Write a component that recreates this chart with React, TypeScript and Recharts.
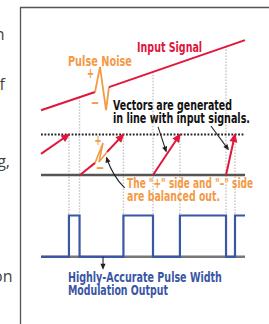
import React from 'react'
import { ComposedChart, Line, XAxis, YAxis, ReferenceLine, ReferenceDot } from 'recharts'

// t = time (0..100 across the drawing), v = level (0 = floor, 1 = threshold, PWM sits below)
const inputBefore = [{ t: 0, v: 1.6 }, { t: 26.5, v: 2.05 }]
const pulseNoise = [{ t: 26.5, v: 2.05 }, { t: 28.9, v: 2.67 }, { t: 31.9, v: 1.6 }, { t: 33.3, v: 2.17 }]
const inputAfter = [{ t: 33.3, v: 2.17 }, { t: 100, v: 3.33 }]

const vector1 = [{ t: 0, v: 0.52 }, { t: 13.7, v: 1 }]
const vector2a = [{ t: 19.1, v: 0 }, { t: 26.5, v: 0.3 }]
const vector2Noise = [{ t: 26.5, v: 0.3 }, { t: 30.4, v: 0.79 }, { t: 28.4, v: 0.32 }, { t: 32.4, v: 0.57 }]
const vector2b = [{ t: 32.4, v: 0.57 }, { t: 40.4, v: 1 }]
const vector3 = [{ t: 54.9, v: 0 }, { t: 68.1, v: 1 }]
const vector4 = [{ t: 90.7, v: 0 }, { t: 95.1, v: 1 }]

const thresholdLine = [{ t: 0, v: 1 }, { t: 100, v: 1 }]
const floorLine = [{ t: 0, v: 0 }, { t: 100, v: 0 }]

const crossings = [13.7, 40.4, 68.1, 95.1]
const resets = [18.9, 54.9, 90.7]
const resetLevels = [1.92, 2.55, 3.17]

const pwmLow = -2.02
const pwmHigh = -1
const pwm = [
  { t: 0, v: pwmLow }, { t: 13.7, v: pwmHigh }, { t: 18.9, v: pwmLow }, { t: 40.4, v: pwmHigh },
  { t: 54.9, v: pwmLow }, { t: 68.1, v: pwmHigh }, { t: 90.7, v: pwmLow }, { t: 95.1, v: pwmHigh },
  { t: 100, v: pwmHigh },
]
const pwmBase = [{ t: 0, v: pwmLow }, { t: 100, v: pwmLow }]

const RED = '#e0163c'
const ORANGE = '#f39a45'
const BLUE = '#3a56a5'
const FONT = '"Liberation Sans Narrow", "DejaVu Sans Condensed", Roboto, sans-serif'

const head = (x: number, y: number, px: number, py: number, color: string, len: number, half: number, key?: any) => {
  const a = Math.atan2(y - py, x - px)
  const c = Math.cos(a), s = Math.sin(a)
  const tx = x + c * 1.5, ty = y + s * 1.5
  const bx = tx - c * len, by = ty - s * len
  return (
    <path key={key}
      d={`M${tx},${ty} L${bx - s * half},${by + c * half} L${bx + s * half},${by - c * half} Z`}
      fill={color} />
  )
}

const arrowDot = (color: string) => (props: any) => {
  const { cx, cy, index, points } = props
  if (!points || index !== points.length - 1) return <g key={index} />
  const prev = points[index - 1]
  return head(cx, cy, prev.x, prev.y, color, 9, 4, index)
}

const note = (key: string, t: number, v: number, text: string, color: string, width: number, anchor = 'start', size = 14) => (
  <ReferenceDot key={key} x={t} y={v} r={0} ifOverflow="visible"
    shape={(p: any) => (
      <text x={p.cx} y={p.cy} fill={color} fontSize={size} fontWeight="bold" fontFamily={FONT}
        textAnchor={anchor} textLength={width} lengthAdjust="spacingAndGlyphs">{text}</text>
    )} />
)

const pointer = (key: string, a: { x: number; y: number }, b: { x: number; y: number }) => (
  <ReferenceLine key={key} segment={[a, b]} ifOverflow="visible"
    shape={(p: any) => (
      <g>
        <line x1={p.x1} y1={p.y1} x2={p.x2} y2={p.y2} stroke="#222" strokeWidth={1.1} />
        {head(p.x2, p.y2, p.x1, p.y1, '#222', 6, 2.6)}
      </g>
    )} />
)

const App = () => {
  return (
    <div style={{ position: 'relative', width: 269, height: 324 }}>
      <style>{'body{margin:0}'}</style>
      <ComposedChart width={269} height={324} margin={{ top: 33.25, right: 24, bottom: 27.5, left: 41 }}>
        <XAxis type="number" dataKey="t" domain={[0, 100]} hide />
        <YAxis type="number" dataKey="v" domain={[-3, 3.5]} hide />

        {crossings.map((t, i) => (
          <ReferenceLine key={'c' + i} segment={[{ x: t, y: 1 }, { x: t, y: pwmHigh }]} ifOverflow="visible"
            stroke="#c4c4c4" strokeWidth={1.4} strokeDasharray="1.4 1.6" />
        ))}
        {resets.map((t, i) => (
          <ReferenceLine key={'r' + i} segment={[{ x: t, y: resetLevels[i] }, { x: t, y: pwmHigh }]} ifOverflow="visible"
            stroke="#c4c4c4" strokeWidth={1.4} strokeDasharray="1.4 1.6" />
        ))}

        <Line data={floorLine} dataKey="v" stroke="#555" strokeWidth={2.4} dot={false} isAnimationActive={false} />
        <Line data={thresholdLine} dataKey="v" stroke="#222" strokeWidth={1.8} strokeDasharray="1.8 1.6" dot={false} isAnimationActive={false} />
        <Line data={pwmBase} dataKey="v" stroke="#777" strokeWidth={2.4} dot={false} isAnimationActive={false} />
        <Line data={pwm} dataKey="v" type="stepAfter" stroke={BLUE} strokeWidth={2.2} dot={false} isAnimationActive={false} />

        <Line data={inputBefore} dataKey="v" stroke={RED} strokeWidth={2} dot={false} isAnimationActive={false} />
        <Line data={pulseNoise} dataKey="v" stroke={ORANGE} strokeWidth={1.8} dot={false} isAnimationActive={false} />
        <Line data={inputAfter} dataKey="v" stroke={RED} strokeWidth={2} dot={false} isAnimationActive={false} />

        <Line data={vector1} dataKey="v" stroke={RED} strokeWidth={2} dot={arrowDot(RED)} isAnimationActive={false} />
        <Line data={vector2a} dataKey="v" stroke={RED} strokeWidth={2} dot={false} isAnimationActive={false} />
        <Line data={vector2Noise} dataKey="v" stroke={ORANGE} strokeWidth={1.6} dot={false} isAnimationActive={false} />
        <Line data={vector2b} dataKey="v" stroke={RED} strokeWidth={2} dot={arrowDot(RED)} isAnimationActive={false} />
        <Line data={vector3} dataKey="v" stroke={RED} strokeWidth={2} dot={arrowDot(RED)} isAnimationActive={false} />
        <Line data={vector4} dataKey="v" stroke={RED} strokeWidth={2} dot={arrowDot(RED)} isAnimationActive={false} />

        {pointer('p1', { x: 57.4, y: 1.19 }, { x: 61.3, y: 0.59 })}
        {pointer('p2', { x: 83.3, y: 1.21 }, { x: 91.7, y: 0.64 })}
        {pointer('p3', { x: 30.4, y: pwmLow }, { x: 30.4, y: -2.3 })}
        <ReferenceDot x={41} y={-0.32} r={0} ifOverflow="visible"
          shape={(p: any) => (
            <g>
              <path d={`M${p.cx},${p.cy} Q${p.cx - 12},${p.cy - 12} ${p.cx - 18},${p.cy - 30}`}
                fill="none" stroke="#222" strokeWidth={1.1} />
              {head(p.cx - 18, p.cy - 30, p.cx - 14, p.cy - 18, '#222', 6, 2.6)}
            </g>
          )} />

        {note('in', 47.1, 3.04, 'Input Signal', RED, 65, 'start', 14.5)}
        {note('pn', 13.2, 2.69, 'Pulse Noise', ORANGE, 64, 'start', 14.5)}
        {note('pl1', 24.3, 2.4, '+', ORANGE, 7, 'middle')}
        {note('mi1', 26.5, 1.68, '–', ORANGE, 8, 'middle')}
        {note('pl2', 27.9, 0.74, '+', ORANGE, 7, 'middle')}
        {note('mi2', 28.9, 0.07, '–', ORANGE, 8, 'middle')}
        {note('v1', 35.3, 1.6, 'Vectors are generated', '#111', 119)}
        {note('v2', 35.3, 1.28, 'in line with input signals.', '#111', 137)}
        {note('o1', 42.2, -0.32, 'The "+" side and "–" side', ORANGE, 126)}
        {note('o2', 42.2, -0.64, 'are balanced out.', ORANGE, 93)}
        {note('b1', 13.2, -2.64, 'Highly-Accurate Pulse Width', BLUE, 154)}
        {note('b2', 13.2, -2.96, 'Modulation Output', BLUE, 100)}
      </ComposedChart>

      <svg width={269} height={324} style={{ position: 'absolute', left: 0, top: 0, pointerEvents: 'none' }}>
        <path d="M20.5,324 L20.5,7.5 L269,7.5" fill="none" stroke="#555" strokeWidth={1.3} />
        <g fill="#444" fontSize={16} fontFamily='"Open Sans", sans-serif' textAnchor="end">
          <text x={4.5} y={40}>n</text>
          <text x={5} y={90}>f</text>
          <text x={10} y={167}>g,</text>
          <text x={12.5} y={282}>on</text>
        </g>
      </svg>
    </div>
  )
}

export default App
